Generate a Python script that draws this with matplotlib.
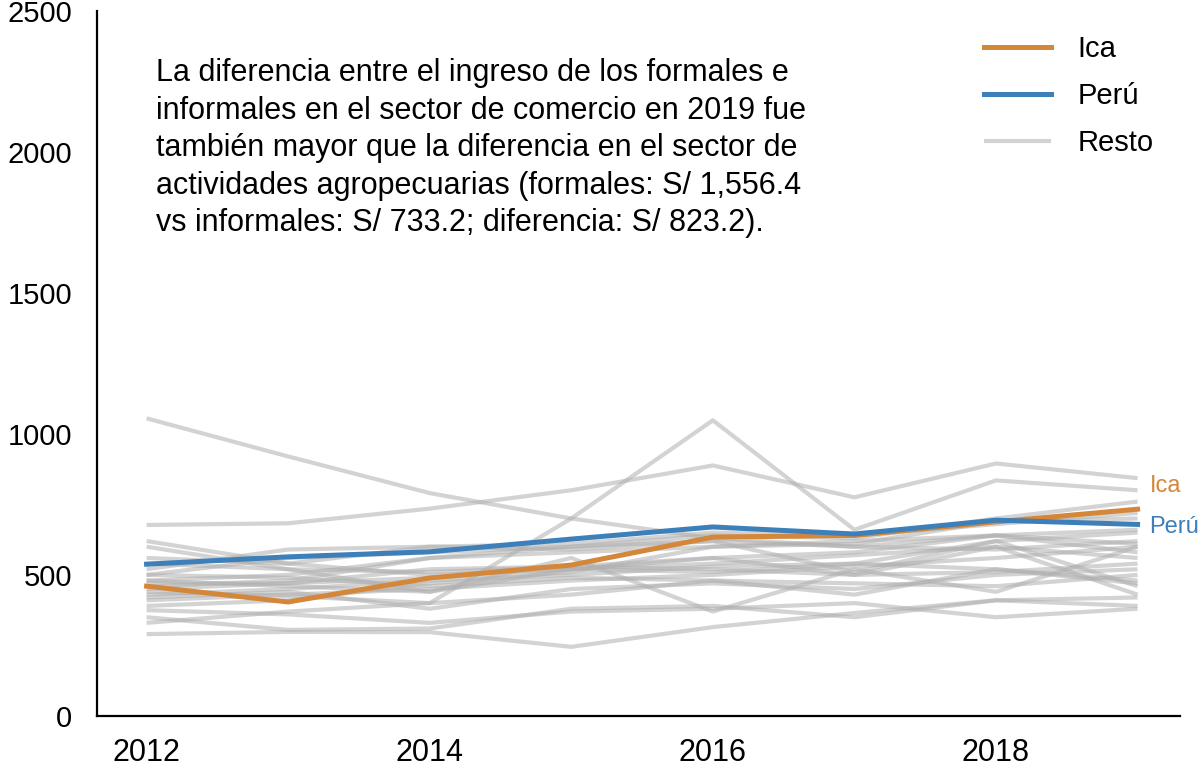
import matplotlib
matplotlib.use("Agg")
import matplotlib.pyplot as plt

plt.rcParams["font.family"] = ["Liberation Sans", "DejaVu Sans"]

years = [2012, 2013, 2014, 2015, 2016, 2017, 2018, 2019]

ica = [460, 404, 489, 535, 634, 640, 688, 733]
peru = [538, 564, 582, 627, 670, 645, 694, 679]

# other regions (Resto)
resto = [
    [677, 683, 735, 800, 888, 775, 895, 843],
    [1055, 920, 790, 700, 630, 600, 640, 610],
    [440, 425, 400, 700, 1048, 660, 835, 800],
    [290, 298, 297, 245, 315, 365, 410, 420],
    [350, 305, 310, 380, 390, 350, 410, 390],
    [375, 360, 330, 370, 380, 400, 350, 380],
    [620, 540, 500, 520, 560, 500, 600, 430],
    [600, 520, 440, 560, 370, 520, 440, 600],
    [460, 480, 560, 600, 620, 510, 620, 460],
    [500, 560, 580, 600, 640, 630, 700, 760],
    [520, 590, 600, 610, 650, 640, 680, 720],
    [480, 500, 560, 580, 600, 610, 690, 700],
    [450, 470, 520, 530, 560, 580, 640, 660],
    [430, 450, 480, 500, 530, 540, 620, 650],
    [410, 430, 450, 480, 500, 530, 560, 600],
    [470, 470, 490, 520, 540, 570, 600, 560],
    [540, 520, 510, 530, 520, 500, 510, 540],
    [390, 410, 470, 510, 600, 620, 640, 580],
    [420, 440, 380, 450, 470, 450, 500, 520],
    [500, 490, 460, 490, 480, 470, 460, 500],
    [560, 540, 600, 590, 620, 600, 590, 620],
    [330, 370, 400, 430, 480, 430, 520, 470],
    [480, 460, 440, 520, 510, 540, 520, 480],
]

note = ("La diferencia entre el ingreso de los formales e\n"
        "informales en el sector de comercio en 2019 fue\n"
        "también mayor que la diferencia en el sector de\n"
        "actividades agropecuarias (formales: S/ 1,556.4\n"
        "vs informales: S/ 733.2; diferencia: S/ 823.2).")

ica_color = "#d4873a"
peru_color = "#3d7fb8"
grey = "#b0b0b0"

fig = plt.figure(figsize=(11.98, 7.69), dpi=100)
ax = fig.add_axes([0.081, 0.069, 0.904, 0.917])

for i, r in enumerate(resto):
    ax.plot(years, r, color=grey, lw=3.0, alpha=0.55, solid_capstyle="butt",
            label="Resto" if i == 0 else None, zorder=1)
ax.plot(years, ica, color=ica_color, lw=3.6, label="Ica", zorder=3)
ax.plot(years, peru, color=peru_color, lw=3.6, label="Perú", zorder=3)

ax.annotate("Ica", xy=(years[-1], ica[-1]), xytext=(9, 17), textcoords="offset points",
            color=ica_color, fontsize=17, va="center", ha="left", annotation_clip=False)
ax.annotate("Perú", xy=(years[-1], peru[-1]), xytext=(8, -2), textcoords="offset points",
            color=peru_color, fontsize=17, va="center", ha="left", annotation_clip=False)

ax.text(0.054, 0.933, note, transform=ax.transAxes, fontsize=22, va="top", ha="left",
        linespacing=1.33)

ax.set_xlim(2011.65, 2019.3)
ax.set_ylim(0, 2500)
ax.set_xticks([2012, 2014, 2016, 2018])
ax.set_yticks([0, 500, 1000, 1500, 2000, 2500])
ax.tick_params(length=0, labelsize=21)
ax.tick_params(axis="x", pad=16, labelsize=22)
ax.tick_params(axis="y", pad=18)
for s in ["top", "right"]:
    ax.spines[s].set_visible(False)
for s in ["left", "bottom"]:
    ax.spines[s].set_linewidth(1.6)

handles, labels = ax.get_legend_handles_labels()
order = [labels.index("Ica"), labels.index("Perú"), labels.index("Resto")]
leg = ax.legend([handles[i] for i in order], [labels[i] for i in order],
                loc="upper right", bbox_to_anchor=(1.0, 1.003), frameon=False,
                fontsize=21, handlelength=2.3, handletextpad=0.9, labelspacing=0.65)
leg.legend_handles[2].set_color("#d3d3d3")
leg.legend_handles[2].set_alpha(1)

fig.savefig("out.png", dpi=100)
